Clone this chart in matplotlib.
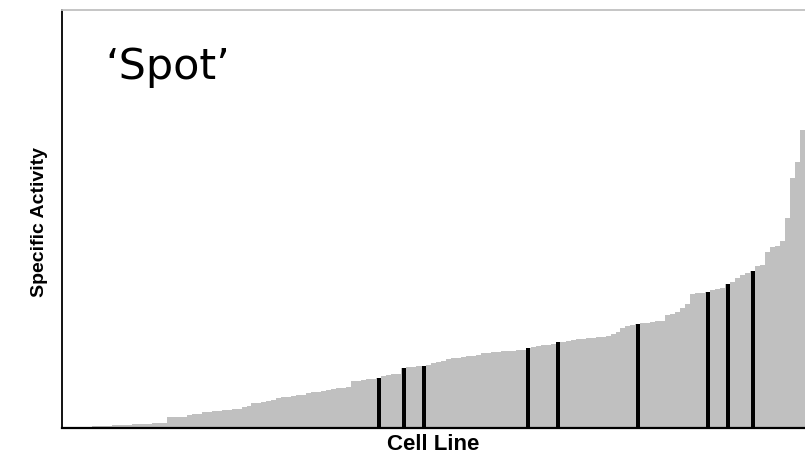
import matplotlib
matplotlib.use("Agg")
import matplotlib.pyplot as plt
import numpy as np

# Specific activity per cell line (sorted ascending), arbitrary units
activity = [
    0.5, 0.7, 0.9, 1.0, 1.3, 1.5, 1.7, 2.0, 2.2, 2.5,
    2.7, 3.0, 3.2, 3.4, 3.6, 3.8, 4.0, 4.3, 4.6, 5.0,
    5.5, 10.8, 11.0, 11.2, 11.5, 13.5, 14.0, 14.5, 16.0, 16.3,
    16.6, 17.0, 18.0, 18.3, 18.6, 19.0, 21.5, 22.0, 25.0, 25.3,
    26.0, 27.3, 27.6, 30.5, 30.8, 31.2, 32.3, 32.6, 33.0, 35.0,
    36.0, 36.5, 37.5, 38.0, 39.0, 40.0, 40.5, 41.3, 47.0, 47.5,
    48.0, 48.8, 49.3, 49.7, 52.0, 53.0, 54.0, 54.5, 59.7, 61.0,
    61.5, 62.0, 62.3, 63.5, 65.0, 66.5, 67.5, 68.7, 70.0, 70.5,
    71.5, 72.0, 72.5, 73.5, 75.0, 75.5, 76.0, 76.3, 76.7, 77.0,
    77.3, 77.7, 78.0, 79.7, 81.0, 82.0, 83.0, 83.5, 84.0, 85.7,
    86.5, 87.3, 88.0, 88.7, 89.5, 90.0, 90.5, 91.0, 91.5, 92.3,
    94.0, 96.0, 100.0, 102.0, 103.0, 104.0, 105.0, 105.5, 106.3, 106.7,
    107.0, 113.0, 114.0, 116.0, 120.0, 124.0, 134.0, 135.0, 135.5, 136.0,
    138.0, 139.0, 140.0, 144.0, 146.0, 150.0, 153.0, 155.0, 157.0, 162.0,
    163.0, 176.0, 181.0, 182.0, 187.0, 210.0, 250.0, 266.0, 298.0,
]
# Indices of highlighted ('Spot') cell lines
highlighted = [63, 68, 72, 93, 99, 115, 129, 133, 138]

title_text = "\u2018Spot\u2019"
xlabel_text = "Cell Line"
ylabel_text = "Specific Activity"

W, H = 805, 458
fig = plt.figure(figsize=(W / 100, H / 100), dpi=100)
ax = fig.add_axes([62 / W, 30 / H, (805 - 62) / W, 418 / H])

n = len(activity)
x = np.arange(n)
ax.bar(x, activity, width=1.0, color="#c0c0c0", edgecolor="none", linewidth=0)
hx = np.array(highlighted)
hv = np.array(activity)[hx]
ax.bar(hx, hv, width=0.8, color="black", edgecolor="none", linewidth=0)

ax.set_xlim(-0.5, n - 0.5)
ax.set_ylim(0, 418)
ax.set_xticks([])
ax.set_yticks([])

ax.spines["left"].set_color("black")
ax.spines["left"].set_linewidth(1.3)
ax.spines["bottom"].set_color("black")
ax.spines["bottom"].set_linewidth(1.6)
ax.spines["top"].set_color("#c0c0c0")
ax.spines["top"].set_linewidth(1.3)
ax.spines["right"].set_visible(False)

fig.text(105 / W, 1 - 67 / H, title_text, fontsize=31, family="DejaVu Sans",
         ha="left", va="center", color="black")
fig.text(433 / W, 1 - 445 / H, xlabel_text, fontsize=16, fontweight="bold",
         family="Liberation Sans", ha="center", va="center")
fig.text(40 / W, 1 - 222 / H, ylabel_text, fontsize=14, fontweight="bold",
         family="Liberation Sans", ha="center", va="center", rotation=90)

fig.savefig("out.png", dpi=100)
